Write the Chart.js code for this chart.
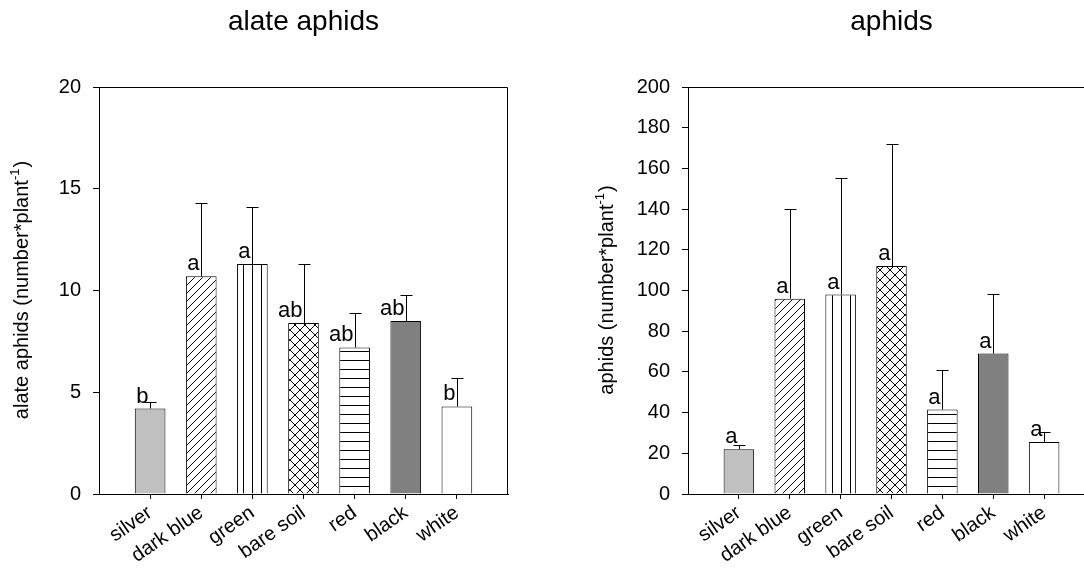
<!DOCTYPE html>
<html>
<head>
<meta charset="utf-8">
<script src="https://cdn.jsdelivr.net/npm/chart.js@4.4.1/dist/chart.umd.min.js"></script>
<style>
  html, body { margin: 0; padding: 0; background: #fff; }
  body { width: 1084px; height: 569px; overflow: hidden; position: relative; }
  .panel { position: absolute; top: 0; width: 560px; height: 569px; }
  #left-panel { left: 0; }
  #right-panel { left: 580px; }
</style>
</head>
<body>
<div class="panel" id="left-panel"><canvas id="alate-chart"></canvas></div>
<div class="panel" id="right-panel"><canvas id="aphid-chart"></canvas></div>
<script>
// --- Data ---
const treatments = ['silver', 'dark blue', 'green', 'bare soil', 'red', 'black', 'white'];

const alateMeans = [4.2, 10.7, 11.3, 8.4, 7.2, 8.5, 4.3];
const alateErrors = [0.3, 3.6, 2.8, 2.9, 1.7, 1.3, 1.4];
const alateLetters = ['b', 'a', 'a', 'ab', 'ab', 'ab', 'b'];
const alateTicks = [0, 5, 10, 15, 20];

const aphidMeans = [22, 96, 98, 112, 41.5, 69, 25.5];
const aphidErrors = [2.3, 44, 57.5, 60, 19.5, 29.5, 5];
const aphidLetters = ['a', 'a', 'a', 'a', 'a', 'a', 'a'];
const aphidTicks = [0, 20, 40, 60, 80, 100, 120, 140, 160, 180, 200];

const FONT = '"Liberation Sans", Arial, sans-serif';

// --- Fill patterns ---
function hatch(kind) {
    const size = kind === 'cross' ? 10 : (kind === 'diag' ? 8 : 9);
    const c = document.createElement('canvas');
    c.width = c.height = size;
    const g = c.getContext('2d');
    g.fillStyle = '#fff';
    g.fillRect(0, 0, size, size);
    g.strokeStyle = '#000';
    g.lineWidth = 1;
    g.beginPath();
    if (kind === 'vert') { g.moveTo(0.5, 0); g.lineTo(0.5, size); }
    if (kind === 'horiz') { g.moveTo(0, 0.5); g.lineTo(size, 0.5); }
    if (kind === 'diag' || kind === 'cross') {
        g.moveTo(0, size); g.lineTo(size, 0);
        g.moveTo(-1, 1); g.lineTo(1, -1);
        g.moveTo(size - 1, size + 1); g.lineTo(size + 1, size - 1);
    }
    if (kind === 'cross') {
        g.moveTo(0, 0); g.lineTo(size, size);
        g.moveTo(-1, size - 1); g.lineTo(1, size + 1);
        g.moveTo(size - 1, -1); g.lineTo(size + 1, 1);
    }
    g.stroke();
    return g.createPattern(c, 'repeat');
}

const fills = ['#c0c0c0', hatch('diag'), hatch('vert'), hatch('cross'), hatch('horiz'), '#808080', '#ffffff'];

// --- Plugins ---
// top and right edges of the plot box
const framePlugin = {
    id: 'frame',
    beforeDatasetsDraw(chart) {
        const { ctx, chartArea: a } = chart;
        ctx.save();
        ctx.strokeStyle = '#000';
        ctx.lineWidth = 1;
        ctx.beginPath();
        ctx.moveTo(a.left, Math.round(a.top) + 0.5);
        ctx.lineTo(Math.round(a.right) - 0.5, Math.round(a.top) + 0.5);
        ctx.lineTo(Math.round(a.right) - 0.5, a.bottom);
        ctx.stroke();
        ctx.restore();
    }
};

// upper error bars with caps, plus the significance letters
const errorBarPlugin = {
    id: 'errorBars',
    afterDatasetsDraw(chart, args, opts) {
        const { ctx, scales: { x, y } } = chart;
        ctx.save();
        ctx.strokeStyle = '#000';
        ctx.lineWidth = 1;
        ctx.fillStyle = '#000';
        ctx.font = '22px ' + FONT;
        ctx.textAlign = 'right';
        ctx.textBaseline = 'alphabetic';
        opts.means.forEach((m, i) => {
            const cx = Math.round(x.getPixelForValue(i + 1)) + 0.5;
            const yTop = y.getPixelForValue(m);
            const yErr = Math.round(y.getPixelForValue(m + opts.errors[i])) + 0.5;
            ctx.beginPath();
            ctx.moveTo(cx, yTop);
            ctx.lineTo(cx, yErr);
            ctx.moveTo(cx - 6, yErr);
            ctx.lineTo(cx + 6, yErr);
            ctx.stroke();
            ctx.fillText(opts.letters[i], cx - 2, yTop - 6);
        });
        ctx.restore();
    }
};

// rotated y-axis title with a superscript exponent
const yTitlePlugin = {
    id: 'yTitle',
    afterDraw(chart, args, opts) {
        const { ctx, chartArea: a } = chart;
        const big = '20px ' + FONT;
        const small = '13px ' + FONT;
        const main = opts.text + ' (number*plant';
        ctx.save();
        ctx.translate(a.left - opts.offset, (a.top + a.bottom) / 2);
        ctx.rotate(-Math.PI / 2);
        ctx.fillStyle = '#000';
        ctx.textAlign = 'left';
        ctx.textBaseline = 'middle';
        ctx.font = big;
        const w1 = ctx.measureText(main).width;
        const w3 = ctx.measureText(')').width;
        ctx.font = small;
        const w2 = ctx.measureText('-1').width;
        let px = -(w1 + w2 + w3) / 2;
        ctx.font = big;
        ctx.fillText(main, px, 0);
        px += w1;
        ctx.font = small;
        ctx.fillText('-1', px, -7);
        px += w2 + 1;
        ctx.font = big;
        ctx.fillText(')', px, 0);
        ctx.restore();
    }
};

// --- Chart builder ---
function buildChart(canvasId, cfg) {
    const n = treatments.length;
    const ticks = cfg.ticks;
    return new Chart(document.getElementById(canvasId), {
        type: 'bar',
        data: {
            labels: ['', ...treatments, ''],
            datasets: [{
                data: [null, ...cfg.means, null],
                backgroundColor: ['rgba(0,0,0,0)', ...fills, 'rgba(0,0,0,0)'],
                borderColor: '#000',
                borderWidth: 1,
                barPercentage: 0.6,
                categoryPercentage: 1
            }]
        },
        options: {
            responsive: true,
            maintainAspectRatio: false,
            animation: false,
            layout: { padding: { left: 0, right: cfg.padRight, top: 0, bottom: 0 } },
            plugins: {
                legend: { display: false },
                tooltip: { enabled: false },
                title: {
                    display: true,
                    text: cfg.title,
                    fullSize: false,
                    color: '#000',
                    font: { family: FONT, size: 28, weight: 'normal', lineHeight: 1.2 },
                    padding: { top: 5, bottom: 48.4 }
                },
                errorBars: { means: cfg.means, errors: cfg.errors, letters: cfg.letters },
                yTitle: { text: cfg.title, offset: cfg.titleOffset }
            },
            scales: {
                x: {
                    offset: false,
                    grid: {
                        offset: false,
                        drawOnChartArea: false,
                        tickLength: 5,
                        tickColor: ctx => (ctx.index === 0 || ctx.index === n + 1) ? 'rgba(0,0,0,0)' : '#000'
                    },
                    border: { color: '#000', width: 1 },
                    ticks: {
                        autoSkip: false,
                        maxRotation: 35,
                        minRotation: 35,
                        padding: 2,
                        color: '#000',
                        font: { family: FONT, size: 20 }
                    },
                    afterFit: s => { s.height = 75; }
                },
                y: {
                    min: ticks[0],
                    max: ticks[ticks.length - 1],
                    ticks: {
                        stepSize: ticks[1] - ticks[0],
                        padding: 12,
                        color: '#000',
                        font: { family: FONT, size: 20 }
                    },
                    grid: { drawOnChartArea: false, tickLength: 6, tickColor: '#000' },
                    border: { color: '#000', width: 1 },
                    afterFit: s => { s.width = cfg.axisWidth; }
                }
            }
        },
        plugins: [framePlugin, errorBarPlugin, yTitlePlugin]
    });
}

// --- Run ---
buildChart('alate-chart', {
    title: 'alate aphids',
    means: alateMeans,
    errors: alateErrors,
    letters: alateLetters,
    ticks: alateTicks,
    axisWidth: 99,
    padRight: 52,
    titleOffset: 77
});

buildChart('aphid-chart', {
    title: 'aphids',
    means: aphidMeans,
    errors: aphidErrors,
    letters: aphidLetters,
    ticks: aphidTicks,
    axisWidth: 108,
    padRight: 45,
    titleOffset: 81
});
</script>
</body>
</html>
